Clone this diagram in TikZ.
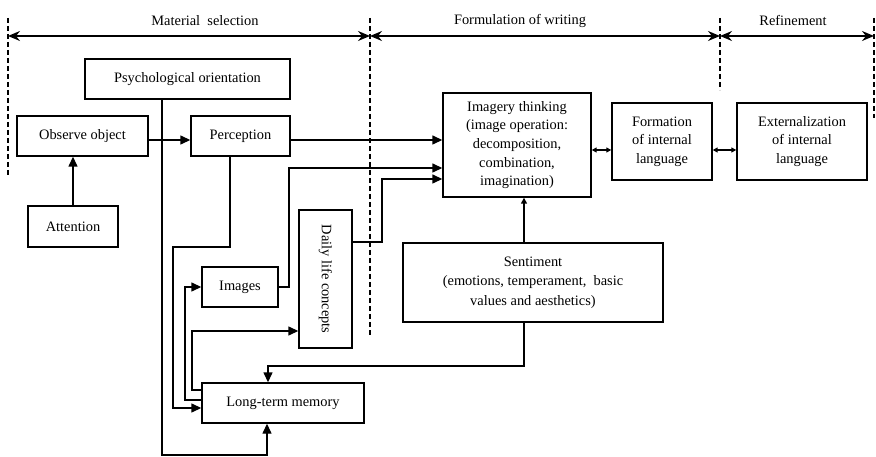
\documentclass[tikz,border=0pt]{standalone}
\usepackage{fontspec}
\usepackage{graphicx}
\setmainfont{Liberation Serif}
\usetikzlibrary{arrows.meta,calc}

\tikzset{
  box/.style={draw, line width=1.4pt, inner sep=0pt, align=center,
    font=\fontsize{14.4}{18.7}\selectfont},
  lab/.style={inner sep=0pt, font=\fontsize{14.4}{18.7}\selectfont},
  conn/.style={line width=1.4pt},
  arr/.style={conn, -{Triangle[length=10pt,width=9pt]}},
  smallarr/.style={conn, -{Triangle[length=6pt,width=6pt]}},
  dbl/.style={conn, {Triangle[length=5pt,width=5pt]}-{Triangle[length=5pt,width=5pt]}},
  span/.style={line width=1.4pt, {Stealth[length=12pt,width=10pt,inset=4pt]}-{Stealth[length=12pt,width=10pt,inset=4pt]}},
  phase/.style={line width=1.2pt, dash pattern=on 5pt off 3pt},
}

\begin{document}
\begin{tikzpicture}[x=1pt, y=-1pt]
\useasboundingbox (0,0) rectangle (876,457);

% phase borders
\coordinate (d1t) at (8,18);   \coordinate (d1b) at (8,175);
\coordinate (d2t) at (370,18); \coordinate (d2b) at (370,337);
\coordinate (d3t) at (720,18); \coordinate (d3b) at (720,90);
\coordinate (d4t) at (874,18); \coordinate (d4b) at (874,118);
\draw[phase] (d1t) -- (d1b);
\draw[phase] (d2t) -- (d2b);
\draw[phase] (d3t) -- (d3b);
\draw[phase] (d4t) -- (d4b);

% phase spans
\coordinate (s0) at (8,36);
\coordinate (s1) at (370,36);
\coordinate (s2) at (720,36);
\coordinate (s3) at (874,36);
\draw[span] (s0) -- (s1);
\draw[span] (s1) -- (s2);
\draw[span] (s2) -- (s3);
\node[lab] (l1) at (205,21) {Material\ \ selection};
\node[lab] (l2) at (520,21) {Formulation of writing};
\node[lab] (l3) at (793,21) {Refinement};

% boxes
\node[box, minimum width=205pt, minimum height=40pt] (psy) at (187.5,79) {Psychological orientation};
\node[box, minimum width=131pt, minimum height=40pt] (obs) at (82.5,136) {Observe object};
\node[box, minimum width=99pt, minimum height=40pt] (per) at (240.5,136) {Perception};
\node[box, minimum width=90pt, minimum height=41pt] (att) at (73,226.5) {Attention};
\node[box, minimum width=76pt, minimum height=40pt] (img) at (240,287) {Images};
\node[box, minimum width=53pt, minimum height=138pt] (daily) at (325.5,279) {\rotatebox{-90}{Daily life concepts}};
\node[box, minimum width=162pt, minimum height=40pt] (ltm) at (283,403) {Long-term memory};
\node[box, minimum width=148pt, minimum height=104pt] (imag) at (517,145)
  {Imagery thinking\\(image operation:\\decomposition,\\combination,\\imagination)};
\node[box, minimum width=100pt, minimum height=77pt] (form) at (662,141.5)
  {Formation\\of internal\\language};
\node[box, minimum width=130pt, minimum height=77pt] (ext) at (802,141.5)
  {Externalization\\of internal\\language};
\node[box, minimum width=260pt, minimum height=79pt,
  font=\fontsize{14.4}{19.5}\selectfont] (sent) at (533,282.5)
  {Sentiment\\(emotions, temperament,\ \ basic\\values and aesthetics)};

% connectors
\draw[arr] (att.north) -- (att.north |- obs.south);
\draw[arr] ([yshift=-4pt]obs.east) -- ([yshift=-4pt]obs.east -| per.west);
\draw[arr] ([yshift=-4pt]per.east) -- ([yshift=-4pt]per.east -| imag.west);

% psychological orientation to long-term memory
\coordinate (c1) at (162,455);
\coordinate (c2) at (267,455);
\draw[arr] (c1 |- psy.south) -- (c1) -- (c2) -- (c2 |- ltm.south);

% perception to long-term memory
\coordinate (p1) at (230,247);
\coordinate (p2) at (173,247);
\coordinate (p3) at (173,408);
\draw[arr] (p1 |- per.south) -- (p1) -- (p2) -- (p3) -- (p3 -| ltm.west);

% long-term memory to images and daily life concepts
\coordinate (q1) at (185,400);
\draw[arr] (q1 -| ltm.west) -- (q1) |- (img.west);
\coordinate (r1) at (192,390);
\coordinate (r2) at (192,331);
\draw[arr] (r1 -| ltm.west) -- (r1) -- (r2) -- (r2 -| daily.west);

% images and daily life concepts to imagery thinking
\coordinate (t1) at (289,168);
\draw[arr] (img.east) -| (t1) -- (t1 -| imag.west);
\coordinate (t2) at (382,242);
\coordinate (t3) at (382,179);
\draw[arr] (t2 -| daily.east) -- (t2) -- (t3) -- (t3 -| imag.west);

% sentiment
\coordinate (u) at (524,0);
\draw[smallarr] (u |- sent.north) -- (u |- imag.south);
\coordinate (v1) at (524,366);
\coordinate (v2) at (268,366);
\draw[arr] (v1 |- sent.south) -- (v1) -- (v2) -- (v2 |- ltm.north);

% language formation chain
\coordinate (w) at (0,150);
\draw[dbl] (w -| imag.east) -- (w -| form.west);
\draw[dbl] (w -| form.east) -- (w -| ext.west);
\end{tikzpicture}
\end{document}
